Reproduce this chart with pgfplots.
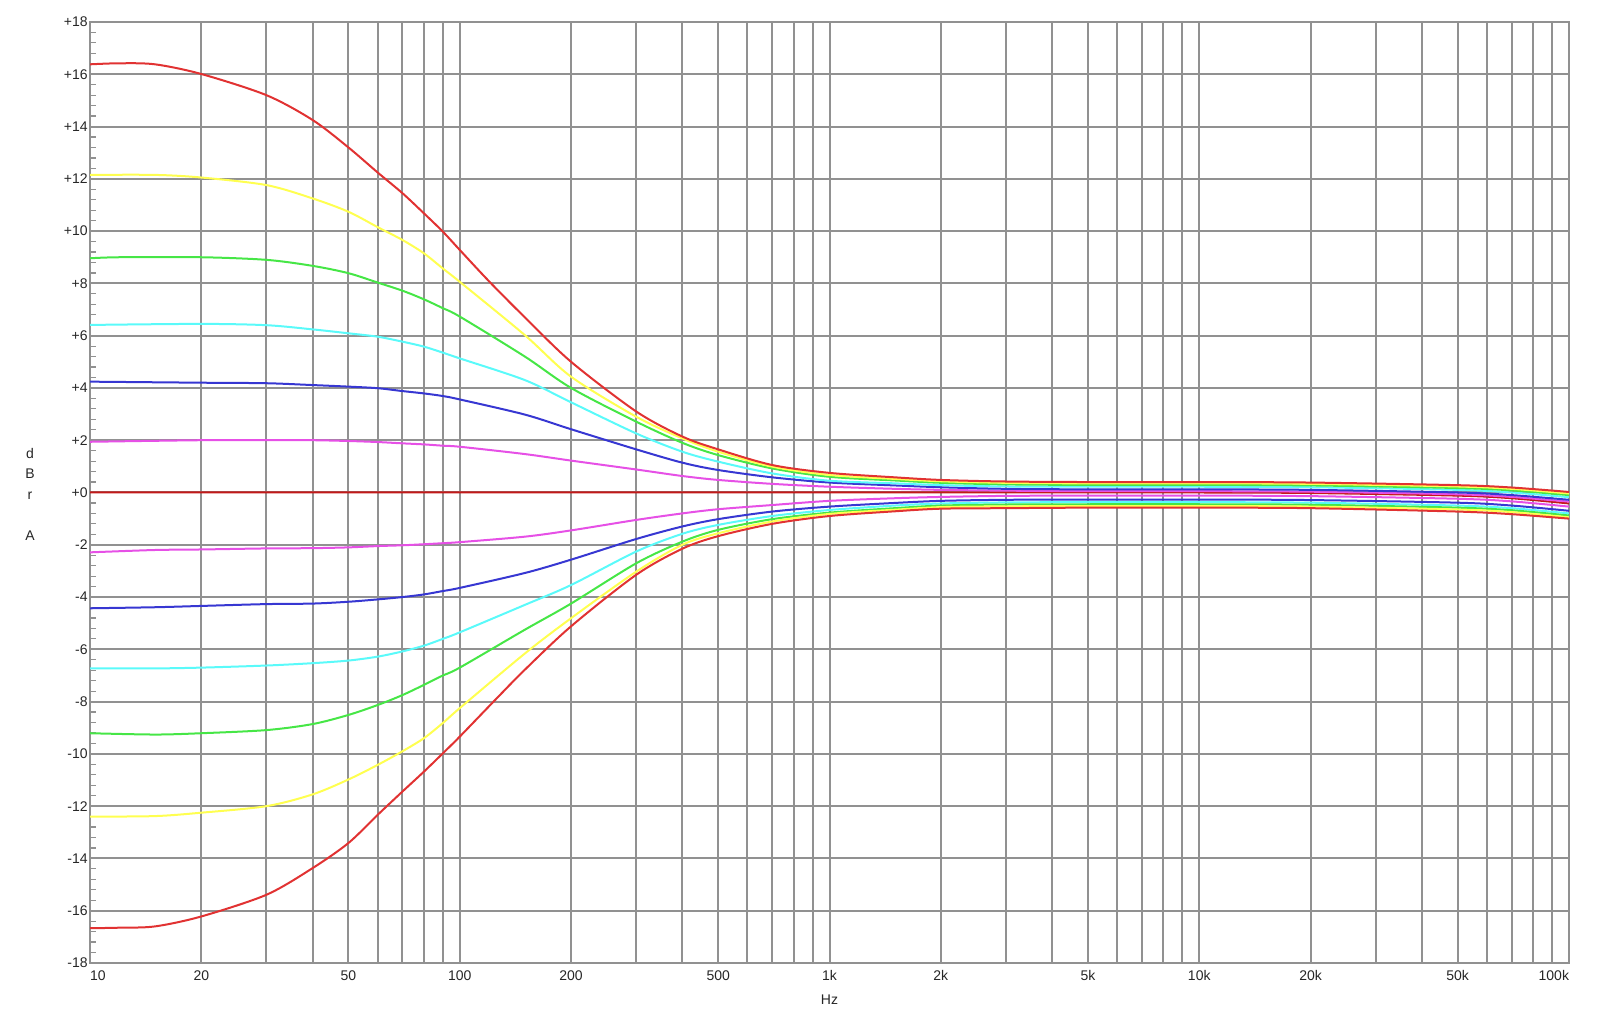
\documentclass[border=0pt]{standalone}
\usepackage{fontspec}
\setmainfont{Liberation Sans}
\usepackage{pgfplots}
\pgfplotsset{compat=1.18}

\definecolor{gridgray}{RGB}{145,145,145}
\definecolor{cRed}{RGB}{225,50,50}
\definecolor{cZero}{RGB}{195,25,25}
\definecolor{cYel}{RGB}{255,255,80}
\definecolor{cGrn}{RGB}{70,230,70}
\definecolor{cCya}{RGB}{90,250,250}
\definecolor{cBlu}{RGB}{55,55,210}
\definecolor{cMag}{RGB}{230,80,230}

\begin{document}
\begin{tikzpicture}
\useasboundingbox (-45pt,-28.5pt) rectangle (755pt,481.5pt);
\begin{axis}[
    at={(0,0)}, anchor=south west,
    scale only axis,
    width=739.5pt, height=470.5pt,
    xmode=log,
    xmin=10, xmax=100000,
    ymin=-18, ymax=18,
    xtick={10,20,50,100,200,500,1000,2000,5000,10000,20000,50000,100000},
    xticklabels={\rlap{10},20,50,100,200,500,1k,2k,5k,10k,20k,50k,\llap{100k}},
    minor xtick={30,40,60,70,80,90,300,400,600,700,800,900,3000,4000,6000,7000,8000,9000,30000,40000,60000,70000,80000,90000},
    ytick={-18,-16,...,18},
    yticklabels={-18,-16,-14,-12,-10,-8,-6,-4,-2,+0,+2,+4,+6,+8,+10,+12,+14,+16,+18},
    minor y tick num=4,
    xmajorgrids, xminorgrids, ymajorgrids, yminorgrids=false,
    major grid style={draw=gridgray, line width=1pt},
    minor grid style={draw=gridgray, line width=1pt},
    axis line style={draw=gridgray, line width=1pt},
    tick align=inside,
    ytick pos=left,
    xtick style={draw=none},
    ytick style={draw=gridgray, line width=0.6pt},
    major tick length=0pt,
    minor tick length=3pt,
    tick label style={font=\fontsize{7}{8}\selectfont, text=black!85},
    yticklabel style={inner xsep=1pt},
    xticklabel style={inner ysep=3.5pt},
    xlabel={Hz},
    xlabel style={font=\fontsize{7}{8}\selectfont, text=black!85, at={(axis description cs:0.5,-0.0393)}, anchor=center},
    ylabel={d\\B\\r\\~\\A},
    ylabel style={rotate=-90, align=center, font=\fontsize{7}{10.25}\selectfont, text=black!85, at={(axis description cs:-0.0406,0.498)}, anchor=center},
    every axis plot/.append style={line width=1pt, smooth},
]
% 0 dB
\addplot[cZero] coordinates {
 (10,0) (20,0) (50,0) (100,0) (200,0) (500,0) (1000,0) (2000,0) (5000,0) (10000,0) (20000,-0.02) (50000,-0.12) (70000,-0.22) (100000,-0.42)
};
% magenta +/-2
\addplot[cMag] coordinates {
 (10,1.94) (20,2.0) (30,2.0) (40,2.0) (50,1.97) (60,1.93) (70,1.88) (80,1.84) (90,1.79) (100,1.75) (150,1.47) (200,1.22) (300,0.88) (400,0.63) (500,0.48) (700,0.33) (1000,0.22) (1500,0.14) (2000,0.1) (3000,0.07) (5000,0.05) (10000,0.05) (20000,0.03) (50000,-0.07) (70000,-0.17) (100000,-0.35)
};
\addplot[cMag] coordinates {
 (10,-2.29) (15,-2.2) (20,-2.18) (30,-2.14) (40,-2.13) (50,-2.1) (60,-2.05) (70,-2.02) (80,-1.98) (90,-1.94) (100,-1.9) (150,-1.69) (200,-1.45) (300,-1.05) (400,-0.8) (500,-0.64) (700,-0.48) (1000,-0.32) (1500,-0.22) (2000,-0.17) (3000,-0.13) (5000,-0.12) (10000,-0.12) (20000,-0.14) (50000,-0.24) (70000,-0.34) (100000,-0.54)
};
% blue +/-4
\addplot[cBlu] coordinates {
 (10,4.24) (20,4.2) (30,4.18) (40,4.11) (50,4.05) (60,3.99) (70,3.88) (80,3.79) (90,3.69) (100,3.56) (150,2.98) (200,2.42) (300,1.65) (400,1.14) (500,0.86) (700,0.58) (1000,0.38) (1500,0.27) (2000,0.2) (3000,0.14) (5000,0.12) (10000,0.12) (20000,0.1) (50000,0.0) (70000,-0.1) (100000,-0.28)
};
\addplot[cBlu] coordinates {
 (10,-4.43) (15,-4.39) (20,-4.34) (30,-4.27) (40,-4.25) (50,-4.18) (60,-4.09) (70,-4.0) (80,-3.9) (90,-3.77) (100,-3.65) (150,-3.08) (200,-2.57) (300,-1.78) (400,-1.3) (500,-1.02) (700,-0.73) (1000,-0.54) (1500,-0.4) (2000,-0.32) (3000,-0.28) (5000,-0.27) (10000,-0.27) (20000,-0.29) (50000,-0.39) (70000,-0.5) (100000,-0.7)
};
% cyan +/-6
\addplot[cCya] coordinates {
 (10,6.41) (20,6.45) (30,6.4) (40,6.24) (50,6.09) (60,5.96) (70,5.77) (80,5.58) (90,5.35) (100,5.13) (150,4.3) (200,3.45) (300,2.26) (400,1.56) (500,1.18) (700,0.73) (1000,0.45) (1500,0.35) (2000,0.28) (3000,0.23) (5000,0.22) (10000,0.22) (20000,0.2) (50000,0.1) (70000,0.0) (100000,-0.18)
};
\addplot[cCya] coordinates {
 (10,-6.73) (15,-6.73) (20,-6.7) (30,-6.62) (40,-6.53) (50,-6.43) (60,-6.28) (70,-6.08) (80,-5.86) (90,-5.6) (100,-5.35) (150,-4.3) (200,-3.54) (300,-2.26) (400,-1.58) (500,-1.24) (700,-0.9) (1000,-0.67) (1500,-0.5) (2000,-0.42) (3000,-0.38) (5000,-0.37) (10000,-0.37) (20000,-0.39) (50000,-0.5) (70000,-0.6) (100000,-0.8)
};
% green +/-9
\addplot[cGrn] coordinates {
 (10,8.96) (12,9.0) (20,9.0) (30,8.9) (40,8.67) (50,8.39) (60,8.03) (70,7.72) (80,7.39) (90,7.05) (100,6.73) (150,5.2) (200,4.0) (300,2.71) (400,1.9) (500,1.43) (700,0.92) (1000,0.6) (1500,0.46) (2000,0.37) (3000,0.31) (5000,0.29) (10000,0.29) (20000,0.27) (50000,0.17) (70000,0.08) (100000,-0.1)
};
\addplot[cGrn] coordinates {
 (10,-9.21) (15,-9.26) (20,-9.21) (30,-9.09) (40,-8.86) (50,-8.51) (60,-8.13) (70,-7.75) (80,-7.36) (90,-7.0) (100,-6.7) (150,-5.25) (200,-4.25) (300,-2.71) (400,-1.88) (500,-1.43) (700,-1.02) (1000,-0.77) (1500,-0.6) (2000,-0.5) (3000,-0.46) (5000,-0.45) (10000,-0.45) (20000,-0.47) (50000,-0.58) (70000,-0.68) (100000,-0.88)
};
% yellow +/-12
\addplot[cYel] coordinates {
 (10,12.15) (15,12.15) (20,12.05) (30,11.76) (40,11.25) (50,10.74) (60,10.15) (70,9.66) (80,9.15) (90,8.57) (100,8.06) (150,6.02) (200,4.43) (300,2.9) (400,2.07) (500,1.56) (700,0.99) (1000,0.67) (1500,0.52) (2000,0.43) (3000,0.37) (5000,0.35) (10000,0.35) (20000,0.33) (50000,0.23) (70000,0.14) (100000,-0.04)
};
\addplot[cYel] coordinates {
 (10,-12.4) (15,-12.38) (20,-12.25) (30,-12.0) (40,-11.55) (50,-10.98) (60,-10.42) (70,-9.9) (80,-9.4) (90,-8.82) (100,-8.25) (150,-6.16) (200,-4.81) (300,-3.03) (400,-2.0) (500,-1.56) (700,-1.11) (1000,-0.82) (1500,-0.66) (2000,-0.56) (3000,-0.53) (5000,-0.52) (10000,-0.52) (20000,-0.54) (50000,-0.65) (70000,-0.75) (100000,-0.95)
};
% red +/-16
\addplot[cRed] coordinates {
 (10,16.38) (12,16.42) (15,16.38) (20,16.01) (30,15.2) (40,14.25) (50,13.2) (60,12.24) (70,11.45) (80,10.68) (90,9.98) (100,9.28) (120,8.08) (150,6.7) (200,5.0) (300,3.1) (400,2.14) (500,1.65) (700,1.05) (1000,0.75) (1500,0.58) (2000,0.48) (3000,0.42) (5000,0.4) (10000,0.4) (20000,0.38) (50000,0.28) (70000,0.19) (100000,0.02)
};
\addplot[cRed] coordinates {
 (10,-16.67) (12,-16.65) (15,-16.6) (20,-16.22) (30,-15.39) (40,-14.37) (50,-13.41) (60,-12.33) (70,-11.44) (80,-10.68) (90,-9.98) (100,-9.34) (125,-7.92) (150,-6.78) (200,-5.12) (300,-3.15) (400,-2.15) (500,-1.67) (700,-1.2) (1000,-0.9) (1500,-0.72) (2000,-0.62) (3000,-0.6) (5000,-0.58) (10000,-0.58) (20000,-0.6) (50000,-0.73) (70000,-0.83) (100000,-1.0)
};
\end{axis}
\end{tikzpicture}
\end{document}
